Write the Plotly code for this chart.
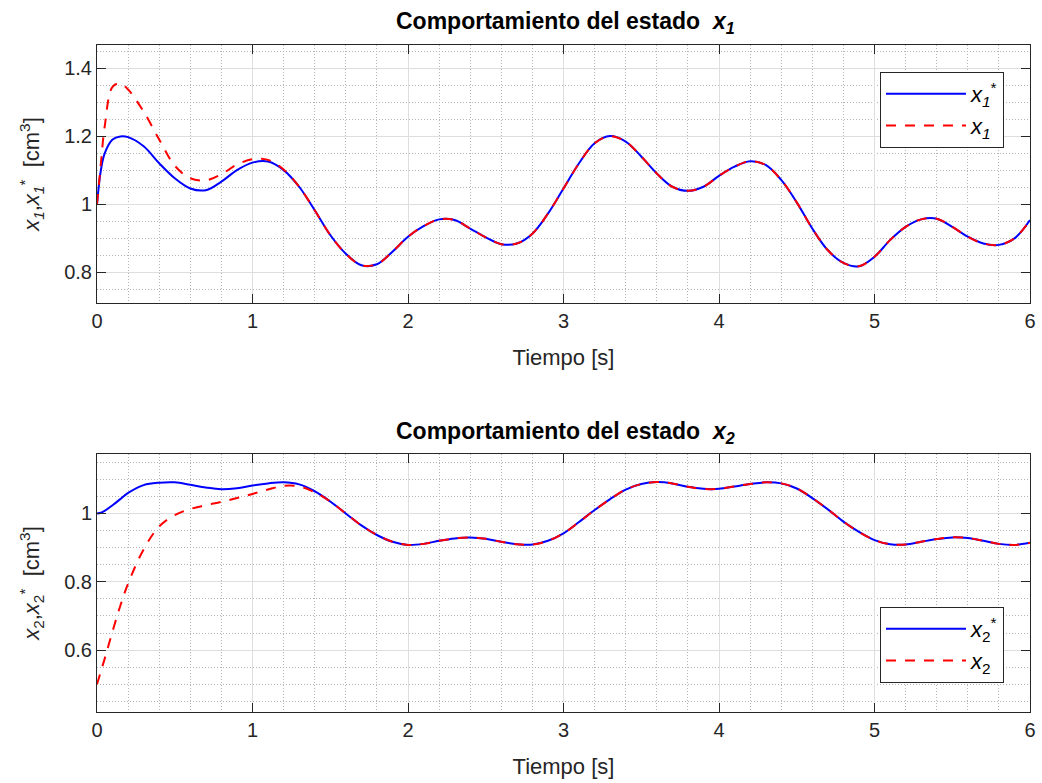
import plotly.graph_objects as go

# ---------------- data ----------------
t = [0, 0.025, 0.05, 0.1, 0.15, 0.2, 0.3, 0.4, 0.5, 0.6, 0.7, 0.8, 0.9, 1.0,
     1.1, 1.2, 1.3, 1.4, 1.5, 1.6, 1.7, 1.8, 1.9, 2.0, 2.1, 2.2, 2.3, 2.4,
     2.5, 2.6, 2.7, 2.8, 2.9, 3.0, 3.1, 3.2, 3.3, 3.4, 3.5, 3.6, 3.7, 3.8,
     3.9, 4.0, 4.1, 4.2, 4.3, 4.4, 4.5, 4.6, 4.7, 4.8, 4.9, 5.0, 5.1, 5.2,
     5.3, 5.4, 5.5, 5.6, 5.7, 5.8, 5.9, 6.0]

x1_ref = [1.0, 1.10, 1.15, 1.19, 1.199, 1.197, 1.17, 1.12, 1.076, 1.046, 1.041,
          1.066, 1.10, 1.122, 1.125, 1.10, 1.051, 0.982, 0.909, 0.854, 0.82,
          0.823, 0.86, 0.904, 0.935, 0.955, 0.953, 0.928, 0.902, 0.882, 0.884,
          0.913, 0.972, 1.046, 1.12, 1.179, 1.2, 1.184, 1.14, 1.09, 1.051,
          1.039, 1.051, 1.083, 1.11, 1.126, 1.115, 1.071, 1.005, 0.928, 0.864,
          0.827, 0.817, 0.845, 0.894, 0.933, 0.955, 0.957, 0.933, 0.904,
          0.884, 0.88, 0.899, 0.953]

x1 = [1.0, 1.12, 1.23, 1.345, 1.355, 1.337, 1.272, 1.19, 1.113, 1.076, 1.07,
      1.088, 1.116, 1.132, 1.13, 1.102, 1.051, 0.982, 0.909, 0.854, 0.82,
      0.823, 0.86, 0.904, 0.935, 0.955, 0.953, 0.928, 0.902, 0.882, 0.884,
      0.913, 0.972, 1.046, 1.12, 1.179, 1.2, 1.184, 1.14, 1.09, 1.051,
      1.039, 1.051, 1.083, 1.11, 1.126, 1.115, 1.071, 1.005, 0.928, 0.864,
      0.827, 0.817, 0.845, 0.894, 0.933, 0.955, 0.957, 0.933, 0.904,
      0.884, 0.88, 0.899, 0.953]

x2_ref = [1.0, 1.002, 1.008, 1.024, 1.042, 1.06, 1.083, 1.09, 1.091, 1.084,
          1.076, 1.071, 1.074, 1.082, 1.088, 1.091, 1.085, 1.065, 1.035, 1.0,
          0.965, 0.937, 0.917, 0.908, 0.911, 0.92, 0.927, 0.93, 0.926, 0.917,
          0.91, 0.909, 0.92, 0.942, 0.975, 1.01, 1.042, 1.07, 1.086, 1.092,
          1.088, 1.078, 1.072, 1.072, 1.079, 1.086, 1.091, 1.088, 1.073,
          1.045, 1.012, 0.976, 0.946, 0.922, 0.91, 0.909, 0.917, 0.925, 0.93,
          0.928, 0.92, 0.911, 0.908, 0.914]

x2 = [0.5, 0.538, 0.576, 0.655, 0.73, 0.795, 0.895, 0.962, 0.995, 1.013,
      1.024, 1.034, 1.045, 1.057, 1.07, 1.081, 1.079, 1.062, 1.035, 1.0,
      0.965, 0.937, 0.917, 0.908, 0.911, 0.92, 0.927, 0.93, 0.926, 0.917,
      0.91, 0.909, 0.92, 0.942, 0.975, 1.01, 1.042, 1.07, 1.086, 1.092,
      1.088, 1.078, 1.072, 1.072, 1.079, 1.086, 1.091, 1.088, 1.073,
      1.045, 1.012, 0.976, 0.946, 0.922, 0.91, 0.909, 0.917, 0.925, 0.93,
      0.928, 0.92, 0.911, 0.908, 0.914]

x_ticks = [0, 1, 2, 3, 4, 5, 6]
y1_ticks = [0.8, 1, 1.2, 1.4]
y2_ticks = [0.6, 0.8, 1]

# ---------------- style ----------------
W, H = 1042, 783
FONT = "Liberation Sans, Arial, Helvetica, sans-serif"
AXC = "#262626"
BLUE = "#0000ff"
RED = "#ff0000"
DASH = "10px,9px"
MINOR = dict(showgrid=True, gridcolor="#b4b4b4", griddash="1px,2px",
             gridwidth=1, ticks="")


def px_x(p):
    return p / W


def px_y(p):
    return 1 - p / H


fig = go.Figure()
fig.add_trace(go.Scatter(x=t, y=x1_ref, mode="lines", name="<i>x</i><sub><i>1</i></sub><sup>*</sup>",
                         line=dict(color=BLUE, width=2, shape="spline"),
                         xaxis="x", yaxis="y", legend="legend"))
fig.add_trace(go.Scatter(x=t, y=x1, mode="lines", name="<i>x</i><sub><i>1</i></sub>",
                         line=dict(color=RED, width=2, dash=DASH, shape="spline"),
                         xaxis="x", yaxis="y", legend="legend"))
fig.add_trace(go.Scatter(x=t, y=x2_ref, mode="lines", name="<i>x</i><sub>2</sub><sup>*</sup>",
                         line=dict(color=BLUE, width=2, shape="spline"),
                         xaxis="x2", yaxis="y2", legend="legend2"))
fig.add_trace(go.Scatter(x=t, y=x2, mode="lines", name="<i>x</i><sub>2</sub>",
                         line=dict(color=RED, width=2, dash=DASH, shape="spline"),
                         xaxis="x2", yaxis="y2", legend="legend2"))


def axis_common():
    return dict(showline=True, linecolor=AXC, linewidth=1, mirror="ticks",
                ticks="inside", ticklen=9, tickcolor=AXC, tickwidth=1,
                tickfont=dict(family=FONT, size=20, color=AXC),
                showgrid=True, gridcolor="#dedede", gridwidth=1, zeroline=False,
                automargin=False)


xdom = [px_x(97), px_x(1030)]

xa = axis_common()
xa.update(domain=xdom, range=[0, 6], tickvals=x_ticks, anchor="y",
          minor=dict(MINOR, dtick=0.2, tick0=0),
          title=dict(text="Tiempo [s]", font=dict(family=FONT, size=22, color=AXC), standoff=18))
xa2 = dict(xa)
xa2.update(anchor="y2")

ya = axis_common()
ya.update(domain=[px_y(303), px_y(45)], range=[0.709, 1.468], tickvals=y1_ticks,
          ticktext=["0.8", "1", "1.2", "1.4"], anchor="x",
          minor=dict(MINOR, dtick=0.05, tick0=0),
          title=dict(text="<i>x</i><sub><i>1</i></sub>,<i>x</i><sub><i>1</i></sub><sup>*</sup>  [cm<sup>3</sup>]",
                     font=dict(family=FONT, size=22, color=AXC), standoff=18))
ya2 = axis_common()
ya2.update(domain=[px_y(712), px_y(454)], range=[0.419, 1.174], tickvals=y2_ticks,
           ticktext=["0.6", "0.8", "1"], anchor="x2",
           minor=dict(MINOR, dtick=0.05, tick0=0),
           title=dict(text="<i>x</i><sub>2</sub>,<i>x</i><sub>2</sub><sup>*</sup>  [cm<sup>3</sup>]",
                      font=dict(family=FONT, size=22, color=AXC), standoff=18))

legend_common = dict(xanchor="right", yanchor="top", bgcolor="white",
                     bordercolor=AXC, borderwidth=1,
                     font=dict(family=FONT, size=22, color="#000000"),
                     itemwidth=80, tracegroupgap=0)

fig.update_layout(
    width=W, height=H, margin=dict(l=0, r=0, t=0, b=0),
    paper_bgcolor="white", plot_bgcolor="white",
    font=dict(family=FONT, color=AXC),
    xaxis=xa, yaxis=ya, xaxis2=xa2, yaxis2=ya2,
    legend=dict(legend_common, x=px_x(1004), y=px_y(72)),
    legend2=dict(legend_common, x=px_x(1004), y=px_y(607)),
    annotations=[
        dict(text="<b>Comportamiento del estado  <i>x<sub>1</sub></i></b>",
             x=px_x(565), y=px_y(22), xref="paper", yref="paper",
             xanchor="center", yanchor="middle", showarrow=False,
             font=dict(family=FONT, size=23, color="#000000")),
        dict(text="<b>Comportamiento del estado  <i>x<sub>2</sub></i></b>",
             x=px_x(565), y=px_y(432), xref="paper", yref="paper",
             xanchor="center", yanchor="middle", showarrow=False,
             font=dict(family=FONT, size=23, color="#000000")),
    ],
)

fig.write_html("out.html")
